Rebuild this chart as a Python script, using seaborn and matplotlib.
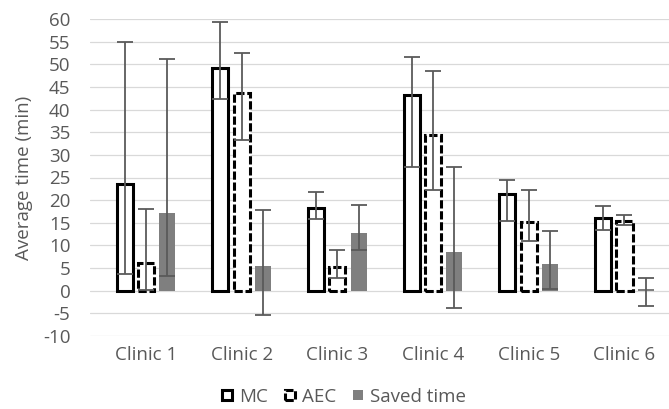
import matplotlib
matplotlib.use("Agg")
import matplotlib.pyplot as plt
import matplotlib.patches as mpatches
import seaborn as sns
import pandas as pd
import numpy as np

clinics = ["Clinic 1", "Clinic 2", "Clinic 3", "Clinic 4", "Clinic 5", "Clinic 6"]
groups = ["MC", "AEC", "Saved time"]

mc_mean = [23.6, 49.1, 18.2, 43.2, 21.3, 16.1]
mc_low = [3.8, 42.4, 15.9, 27.4, 15.5, 13.4]
mc_high = [54.9, 59.3, 21.8, 51.5, 24.4, 18.7]

aec_mean = [6.1, 43.6, 5.3, 34.4, 15.1, 15.5]
aec_low = [0.2, 33.3, 2.7, 22.2, 11.0, 14.5]
aec_high = [18.0, 52.6, 9.0, 48.5, 22.2, 16.7]

saved_mean = [17.1, 5.5, 12.7, 8.6, 5.8, 0.3]
saved_low = [3.2, -5.4, 9.0, -3.9, 0.3, -3.4]
saved_high = [51.1, 17.8, 18.9, 27.4, 13.2, 2.9]

means = {"MC": mc_mean, "AEC": aec_mean, "Saved time": saved_mean}
lows = {"MC": mc_low, "AEC": aec_low, "Saved time": saved_low}
highs = {"MC": mc_high, "AEC": aec_high, "Saved time": saved_high}

rows = []
for g in groups:
    for c, m in zip(clinics, means[g]):
        rows.append([c, g, m])
df = pd.DataFrame(rows, columns=["clinic", "group", "time"])

sns.set_style("white")
plt.rcParams["font.family"] = ["Open Sans", "DejaVu Sans"]
plt.rcParams["axes.unicode_minus"] = False
TXT = "#595959"
FS = 13.5

fig = plt.figure(figsize=(6.69, 4.09), dpi=100)
ax = fig.add_axes([89.75 / 669, 73 / 409, 591 / 669, 317 / 409])

sns.barplot(
    data=df, x="clinic", y="time", hue="group",
    order=clinics, hue_order=groups,
    palette={"MC": "white", "AEC": "white", "Saved time": "#7f7f7f"},
    saturation=1, width=0.67, gap=0.25, errorbar=None, legend=False, ax=ax,
)

dash = (0, (2.7, 0.9))
for cont, g in zip(ax.containers, groups):
    for p in cont:
        p.set_joinstyle("miter")
        if g == "MC":
            p.set_edgecolor("black")
            p.set_linewidth(2.2)
        elif g == "AEC":
            p.set_edgecolor("black")
            p.set_linewidth(2.2)
            p.set_linestyle(dash)
        else:
            p.set_edgecolor("none")
            p.set_linewidth(0)
    xs = [p.get_x() + p.get_width() / 2 for p in cont]
    m = np.array(means[g])
    lo = np.array(lows[g])
    hi = np.array(highs[g])
    ax.errorbar(xs, m, yerr=[m - lo, hi - m], fmt="none", ecolor="#5a5a5a",
                elinewidth=1.3, capsize=6, capthick=1.3, zorder=4)

ax.set_ylim(-10, 60)
ax.set_yticks(range(-10, 61, 5))
ax.yaxis.grid(True, color="#d9d9d9", lw=0.9)
ax.set_axisbelow(True)
for s in ax.spines.values():
    s.set_visible(False)
ax.tick_params(axis="both", length=0, labelsize=FS, labelcolor=TXT)
ax.tick_params(axis="y", pad=14)
ax.tick_params(axis="x", pad=7)
ax.set_xlabel("")
ax.set_ylabel("Average time (min)", fontsize=FS, color=TXT)
ax.yaxis.set_label_coords(-0.096, 0.5)

handles = [
    mpatches.Patch(facecolor="white", edgecolor="black", lw=2.2, joinstyle="miter"),
    mpatches.Patch(facecolor="white", edgecolor="black", lw=2.2, linestyle=dash, joinstyle="miter"),
    mpatches.Patch(facecolor="#7f7f7f", edgecolor="none"),
]
fig.legend(handles, groups, loc="center", bbox_to_anchor=(0.514, 0.029), ncol=3,
           frameon=False, handlelength=0.55, handleheight=0.45, handletextpad=0.35,
           columnspacing=0.9, fontsize=FS, labelcolor=TXT)

fig.savefig("out.png", dpi=100)
